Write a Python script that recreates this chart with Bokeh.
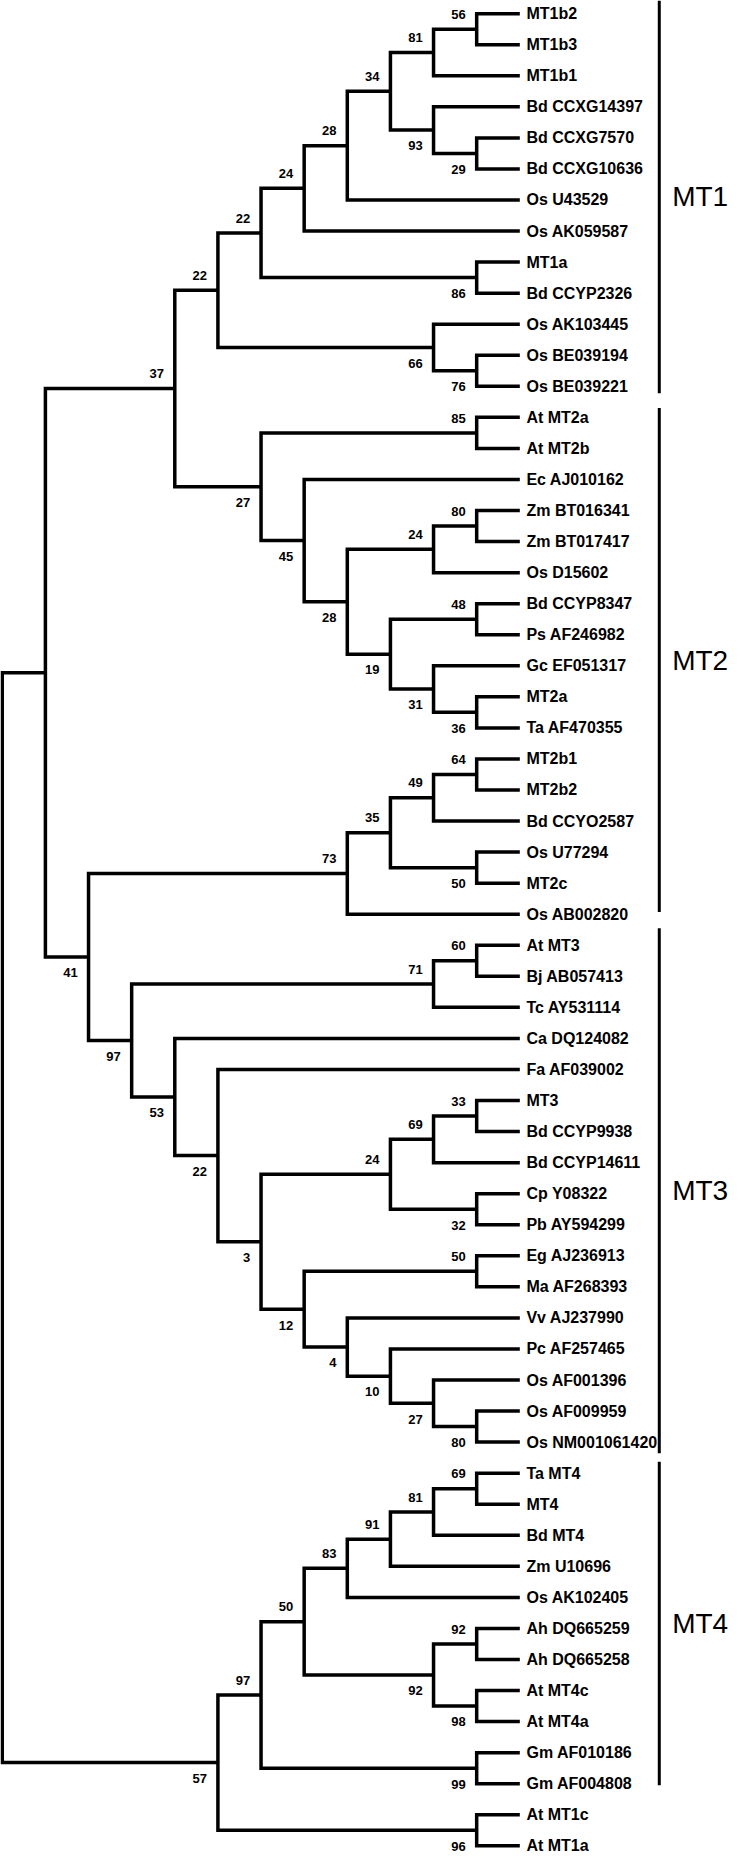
from bokeh.plotting import figure
from bokeh.models import Range1d
from bokeh.embed import file_html
from bokeh.resources import INLINE
from bokeh.core.properties import value

# ---------------- data ----------------
leaves = [
    "MT1b2", "MT1b3", "MT1b1", "Bd CCXG14397", "Bd CCXG7570", "Bd CCXG10636",
    "Os U43529", "Os AK059587", "MT1a", "Bd CCYP2326", "Os AK103445",
    "Os BE039194", "Os BE039221",
    "At MT2a", "At MT2b", "Ec AJ010162", "Zm BT016341", "Zm BT017417",
    "Os D15602", "Bd CCYP8347", "Ps AF246982", "Gc EF051317", "MT2a",
    "Ta AF470355", "MT2b1", "MT2b2", "Bd CCYO2587", "Os U77294", "MT2c",
    "Os AB002820",
    "At MT3", "Bj AB057413", "Tc AY531114", "Ca DQ124082", "Fa AF039002",
    "MT3", "Bd CCYP9938", "Bd CCYP14611", "Cp Y08322", "Pb AY594299",
    "Eg AJ236913", "Ma AF268393", "Vv AJ237990", "Pc AF257465",
    "Os AF001396", "Os AF009959", "Os NM001061420",
    "Ta MT4", "MT4", "Bd MT4", "Zm U10696", "Os AK102405", "Ah DQ665259",
    "Ah DQ665258", "At MT4c", "At MT4a", "Gm AF010186", "Gm AF004808",
    "At MT1c", "At MT1a",
]

# internal nodes: id, upper child, lower child, bootstrap support
node_ids = ["a1", "a2", "a3", "a4", "a5", "a6", "a7", "a8", "a9", "a10", "a11", "a12",
            "b1", "b2", "b3", "b4", "b5", "b6", "b7", "b8", "b9", "b10", "c1",
            "d1", "d2", "d3", "d4", "d5",
            "e1", "e2", "e3", "e4", "e5", "e6", "e7", "e8", "e9", "e10", "e11",
            "e12", "e13", "e14", "e15", "e16", "f1", "g1",
            "h1", "h2", "h3", "h4", "h5", "h6", "h7", "h8", "h9", "h10", "h11",
            "h12", "root"]
node_upper = ["MT1b2", "a1", "Bd CCXG7570", "Bd CCXG14397", "a2", "a5", "a6", "MT1a",
              "a7", "Os BE039194", "Os AK103445", "a9",
              "At MT2a", "Zm BT016341", "b2", "Bd CCYP8347", "MT2a", "Gc EF051317",
              "b4", "b3", "Ec AJ010162", "b1", "a12",
              "MT2b1", "d1", "Os U77294", "d2", "d4",
              "At MT3", "e1", "MT3", "e3", "Cp Y08322", "e4", "Eg AJ236913",
              "Os AF009959", "Os AF001396", "Pc AF257465", "Vv AJ237990", "e7",
              "e6", "Fa AF039002", "Ca DQ124082", "e2", "d5", "c1",
              "Ta MT4", "h1", "h2", "h3", "Ah DQ665259", "At MT4c", "h5", "h4",
              "Gm AF010186", "h8", "At MT1c", "h10", "g1"]
node_lower = ["MT1b3", "MT1b1", "Bd CCXG10636", "a3", "a4", "Os U43529", "Os AK059587",
              "Bd CCYP2326", "a8", "Os BE039221", "a10", "a11",
              "At MT2b", "Zm BT017417", "Os D15602", "Ps AF246982", "Ta AF470355",
              "b5", "b6", "b7", "b8", "b9", "b10",
              "MT2b2", "Bd CCYO2587", "MT2c", "d3", "Os AB002820",
              "Bj AB057413", "Tc AY531114", "Bd CCYP9938", "Bd CCYP14611",
              "Pb AY594299", "e5", "Ma AF268393", "Os NM001061420", "e8", "e9",
              "e10", "e11", "e12", "e13", "e14", "e15", "e16", "f1",
              "MT4", "Bd MT4", "Zm U10696", "Os AK102405", "Ah DQ665258",
              "At MT4a", "h6", "h7", "Gm AF004808", "h9", "At MT1a", "h11", "h12"]
node_support = [56, 81, 29, 93, 34, 28, 24, 86, 22, 76, 66, 22,
                85, 80, 24, 48, 36, 31, 19, 28, 45, 27, 37,
                64, 49, 50, 35, 73,
                60, 71, 33, 69, 32, 24, 50, 80, 27, 10, 4, 12, 3, 22, 53, 97, 41, None,
                69, 81, 91, 83, 92, 98, 92, 50, 99, 97, 96, 57, None]

# clade bars (span in leaf rows) and names
group_names = ["MT1", "MT2", "MT3", "MT4"]
group_start = [-0.42, 12.70, 29.45, 46.63]
group_end = [12.22, 28.93, 46.36, 57.05]

# ---------------- layout of the cladogram ----------------
XS = 43.6   # px per level (reference)
YS = 31.37  # px per leaf row (reference)

pos = {}
for i, name in enumerate(leaves):
    pos[name] = (0, float(i))
for nid, up, lo in zip(node_ids, node_upper, node_lower):
    lu, yu = pos[up]
    ll, yl = pos[lo]
    pos[nid] = (max(lu, ll) + 1, (yu + yl) / 2.0)

xs, ys = [], []
for nid, up, lo in zip(node_ids, node_upper, node_lower):
    ln, yn = pos[nid]
    lu, yu = pos[up]
    ll, yl = pos[lo]
    xs.append([-lu, -ln, -ln, -ll])
    ys.append([yu, yu, yl, yl])

# support labels: above the branch for an upper child, below for a lower one
sx, sy, st = [], [], []
parent_side = {}
for up, lo in zip(node_upper, node_lower):
    parent_side[up] = "upper"
    parent_side[lo] = "lower"
for nid, sup in zip(node_ids, node_support):
    if sup is None:
        continue
    ln, yn = pos[nid]
    sx.append(-ln - 11.0 / XS)
    if parent_side.get(nid) == "lower":
        sy.append(yn + 16.0 / YS)
    else:
        sy.append(yn - 15.0 / YS)
    st.append(str(sup))

p = figure(width=730, height=1863,
           x_range=Range1d((0 - 525) / XS, (738 - 525) / XS),
           y_range=Range1d((1882 - 13.3) / YS, (0 - 13.3) / YS),
           toolbar_location=None, output_backend="svg", min_border=0)
p.axis.visible = False
p.grid.visible = False
p.outline_line_color = None
p.background_fill_color = "white"
p.border_fill_color = "white"

p.multi_line(xs=xs, ys=ys, line_color="black", line_width=3.5, line_join="miter")

font = value("Liberation Sans")
p.text(x=[6.7 / XS] * len(leaves), y=list(range(len(leaves))), text=leaves,
       text_font=font, text_font_style="bold", text_font_size="16px",
       text_baseline="middle", text_align="left", text_color="black")

p.text(x=sx, y=sy, text=st, text_font=font, text_font_style="bold",
       text_font_size="13px", text_baseline="middle", text_align="right",
       text_color="black")

bar_x = (666 - 525) / XS
p.segment(x0=[bar_x] * 4, y0=group_start, x1=[bar_x] * 4, y1=group_end,
          line_color="black", line_width=3)
p.text(x=[(679 - 525) / XS] * 4,
       y=[(a + b) / 2 for a, b in zip(group_start, group_end)],
       text=group_names, text_font=font, text_font_size="28px",
       text_baseline="middle", text_align="left", text_color="black")

open("out.html", "w").write(file_html(p, INLINE))
